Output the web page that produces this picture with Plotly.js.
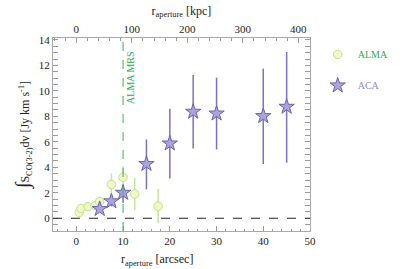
<!DOCTYPE html>
<html>
<head>
<meta charset="utf-8">
<script src="https://cdn.plot.ly/plotly-3.0.1.min.js"></script>
<style>html,body{margin:0;padding:0;background:#fff;}#chart{width:408px;height:269px;}</style>
</head>
<body>
<div id="chart"></div>
<script>
// ALMA data (arcsec, flux, error up, error down)
const almaR = [0.6, 1.0, 2.5, 4.0, 5.0, 7.5, 10.0, 12.5, 17.5];
const almaFlux = [0.47, 0.76, 0.91, 0.99, 1.31, 2.66, 3.21, 1.90, 0.94];
const almaErrPlus = [0.1, 0.1, 0.1, 0.1, 0.39, 0.86, 0.9, 1.26, 1.38];
const almaErrMinus = [0.1, 0.1, 0.1, 0.1, 0.4, 1.22, 0.9, 1.25, 1.33];
// ACA data
const acaR = [5, 7.5, 10, 15, 20, 25, 30, 40, 45];
const acaFlux = [0.73, 1.33, 2.0, 4.26, 5.87, 8.36, 8.22, 8.02, 8.75];
const acaErrPlus = [0.2, 0.4, 0.65, 1.93, 2.72, 2.89, 2.82, 3.73, 4.30];
const acaErrMinus = [0.2, 0.4, 0.8, 1.99, 2.74, 2.88, 2.82, 3.76, 4.39];
// axis ticks
const xTicks = [0, 10, 20, 30, 40, 50];
const yTicks = [0, 2, 4, 6, 8, 10, 12, 14];
const kpcTicks = [0, 100, 200, 300, 400];
const kpcPerArcsec = 8.42;
const mrsR = 10;

const xRange = [-5, 50];
const yRange = [-1, 14.15];
const font = 'Liberation Serif, DejaVu Serif, serif';

const traces = [
  {
    x: almaR, y: almaFlux, type: 'scatter', mode: 'markers',
    name: '<span style="color:#2eaa4a">ALMA</span>',
    marker: {symbol: 'circle', size: 8.5, color: '#f1f8c6', line: {color: '#c2e288', width: 1}},
    error_y: {type: 'data', symmetric: false, array: almaErrPlus, arrayminus: almaErrMinus,
              color: '#c6e69c', thickness: 1.5, width: 0},
    legendgroup: 'a'
  },
  {
    x: acaR, y: acaFlux, type: 'scatter', mode: 'markers',
    name: '<span style="color:#9088cc">ACA</span>',
    marker: {symbol: 'star', size: 11.5, color: '#aaa4d8', line: {color: '#6c62b8', width: 1}},
    error_y: {type: 'data', symmetric: false, array: acaErrPlus, arrayminus: acaErrMinus,
              color: '#7a70c4', thickness: 1.5, width: 0},
    legendgroup: 'b'
  }
];

const axisCommon = {
  ticks: 'inside', ticklen: 5, tickcolor: '#9a9a9a', tickwidth: 1,
  showline: true, linecolor: '#a8a8a8', linewidth: 1,
  showgrid: false, zeroline: false,
  tickfont: {family: font, size: 11, color: '#222'}
};

const layout = {
  width: 408, height: 269,
  margin: {l: 53, r: 98, t: 38, b: 38},
  paper_bgcolor: '#fff', plot_bgcolor: '#fff',
  showlegend: true,
  legend: {x: 1.03, y: 0.99, xanchor: 'left', yanchor: 'top',
           font: {family: font, size: 10}, tracegroupgap: 12, itemsizing: 'trace',
           bgcolor: 'rgba(0,0,0,0)'},
  xaxis: Object.assign({}, axisCommon, {
    range: xRange, tickmode: 'array', tickvals: xTicks, mirror: true,
    minor: {dtick: 2, ticklen: 2.5, ticks: 'inside', tickcolor: '#9a9a9a'}
  }),
  xaxis2: Object.assign({}, axisCommon, {
    overlaying: 'x', side: 'top', anchor: 'y',
    range: [xRange[0] * kpcPerArcsec, xRange[1] * kpcPerArcsec],
    tickmode: 'array', tickvals: kpcTicks,
    minor: {dtick: 20, ticklen: 2.5, ticks: 'inside', tickcolor: '#9a9a9a'},
    title: {text: 'r<sub>aperture</sub> [kpc]', font: {family: font, size: 12, color: '#222'}, standoff: 4}
  }),
  yaxis: Object.assign({}, axisCommon, {
    range: yRange, tickmode: 'array', tickvals: yTicks, mirror: 'allticks',
    minor: {dtick: 0.5, ticklen: 2.5, ticks: 'inside', tickcolor: '#9a9a9a'},
    title: {text: '<span style="font-size:20px">∫</span>S<sub>CO(3-2)</sub>dv [Jy km s<sup>-1</sup>]',
            font: {family: font, size: 12, color: '#222'}, standoff: 6}
  }),
  shapes: [
    {type: 'line', xref: 'x', yref: 'y', x0: xRange[0], x1: xRange[1], y0: 0, y1: 0,
     line: {color: '#222', width: 1, dash: 'dash'}},
    {type: 'line', xref: 'x', yref: 'paper', x0: mrsR, x1: mrsR, y0: 0, y1: 1,
     line: {color: '#33b855', width: 1, dash: 'dash'}}
  ],
  annotations: [
    {xref: 'x', yref: 'y', x: mrsR, y: 13.3, text: 'ALMA MRS', textangle: -90,
     showarrow: false, xanchor: 'left', yanchor: 'top', xshift: 0,
     font: {family: font, size: 10, color: '#2eaa4a'}},
    {xref: 'paper', yref: 'paper', x: 0.405, y: -0.1, yanchor: 'top', xanchor: 'center',
     text: 'r<sub>aperture</sub> [arcsec]', showarrow: false,
     font: {family: font, size: 12, color: '#222'}}
  ]
};

// make top axis drawn with a hidden trace on it
traces.push({x: [xRange[0] * kpcPerArcsec], y: [yRange[0]], xaxis: 'x2', yaxis: 'y', type: 'scatter',
             mode: 'markers', marker: {opacity: 0}, showlegend: false, hoverinfo: 'skip'});

Plotly.newPlot('chart', traces, layout, {staticPlot: true, displayModeBar: false});
</script>
</body>
</html>
